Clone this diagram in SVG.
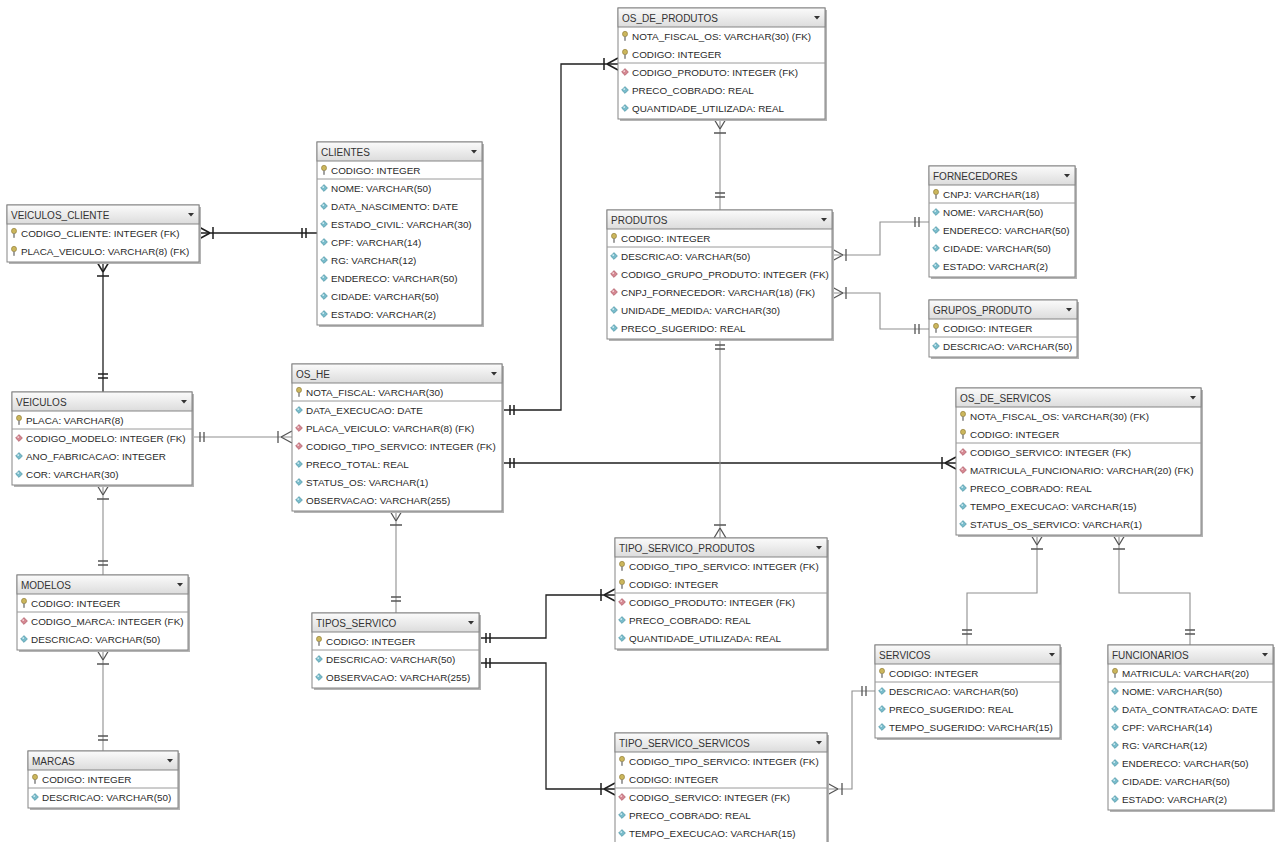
<svg xmlns="http://www.w3.org/2000/svg" xmlns:xlink="http://www.w3.org/1999/xlink" width="1282" height="842" viewBox="0 0 1282 842">
<defs>
<linearGradient id="hdr" x1="0" y1="0" x2="0" y2="1">
<stop offset="0" stop-color="#fbfbfb"/><stop offset="1" stop-color="#dcdcdc"/>
</linearGradient>
<g id="key"><ellipse cx="0" cy="-2" rx="2.5" ry="2.7" fill="#cbb65c" stroke="#8a7630" stroke-width="0.6"/><rect x="-0.8" y="0.4" width="1.6" height="4.4" fill="#8a8a8a"/></g>
<g id="att"><path d="M0,-3.4 L3.4,0 L0,3.4 L-3.4,0Z" fill="#79bccb" stroke="#3f8999" stroke-width="0.6"/><circle cx="-0.8" cy="-0.9" r="0.9" fill="#d8f0f5"/></g>
<g id="fk"><path d="M0,-3.4 L3.4,0 L0,3.4 L-3.4,0Z" fill="#d58892" stroke="#a14a57" stroke-width="0.6"/><circle cx="-0.8" cy="-0.9" r="0.9" fill="#f6dadd"/></g>
<path id="tri" d="M0,0 H6 L3,3.5Z" fill="#333"/>
</defs>
<style>
.sh{fill:#b4b4b4}
.bx{fill:#fff;stroke:#858585;stroke-width:1}
.hd{fill:url(#hdr);stroke:#858585;stroke-width:1}
.sep{stroke:#9a9a9a;stroke-width:1}
text{font-family:"Liberation Sans",Arial,sans-serif;font-size:9.9px;fill:#2a2a2a}
.ht{font-size:10px;fill:#333}
.ln{fill:none;stroke:#1e1e1e;stroke-width:1.3}
.ll{fill:none;stroke:#8f8f8f;stroke-width:1.1}
.sd{fill:none;stroke:#1e1e1e;stroke-width:1.5}
.sl{fill:none;stroke:#555;stroke-width:1.3}
</style>
<rect width="1282" height="842" fill="#fff"/>

<g id="connectors">
<!-- VEICULOS_CLIENTE - CLIENTES -->
<path class="ln" d="M199,233 H317"/>
<path class="sd" d="M199,227 L210,233 M199,239 L210,233 M213,227 V239 M302,228 V238 M306,228 V238"/>
<!-- VEICULOS_CLIENTE - VEICULOS -->
<path class="ln" d="M103,262 V392"/>
<path class="sd" d="M97,262 L103,272 M109,262 L103,272 M97,276 H109 M98,374 H108 M98,378 H108"/>
<!-- VEICULOS - OS_HE -->
<path class="ll" d="M192,437 H292"/>
<path class="sl" d="M200,432 V442 M204,432 V442 M292,431 L281,437 M292,443 L281,437 M278,431 V443"/>
<!-- OS_HE - OS_DE_PRODUTOS -->
<path class="ln" d="M502,410 H561 V64 H618"/>
<path class="sd" d="M510,405 V415 M514,405 V415 M618,58 L607,64 M618,70 L607,64 M604,58 V70"/>
<!-- OS_HE - OS_DE_SERVICOS -->
<path class="ln" d="M502,463 H956"/>
<path class="sd" d="M510,458 V468 M514,458 V468 M956,457 L945,463 M956,469 L945,463 M942,457 V469"/>
<!-- OS_HE - TIPOS_SERVICO -->
<path class="ll" d="M396,511 V613"/>
<path class="sl" d="M390,511 L396,521 M402,511 L396,521 M390,525 H402 M391,597 H401 M391,601 H401"/>
<!-- OS_DE_PRODUTOS - PRODUTOS -->
<path class="ll" d="M720,119 V210"/>
<path class="sl" d="M714,119 L720,129 M726,119 L720,129 M714,133 H726 M715,193 H725 M715,197 H725"/>
<!-- PRODUTOS - TIPO_SERVICO_PRODUTOS -->
<path class="ll" d="M720,339 V538"/>
<path class="sl" d="M715,345 H725 M715,349 H725 M714,538 L720,528 M726,538 L720,528 M714,525 H726"/>
<!-- PRODUTOS - FORNECEDORES -->
<path class="ll" d="M832,255 H880 V222 H929"/>
<path class="sl" d="M832,249 L843,255 M832,261 L843,255 M846,249 V261 M915,217 V227 M919,217 V227"/>
<!-- PRODUTOS - GRUPOS_PRODUTO -->
<path class="ll" d="M832,293 H880 V329 H929"/>
<path class="sl" d="M832,287 L843,293 M832,299 L843,293 M846,287 V299 M915,324 V334 M919,324 V334"/>
<!-- TIPOS_SERVICO - TIPO_SERVICO_PRODUTOS -->
<path class="ln" d="M479,638 H546 V595 H615"/>
<path class="sd" d="M486,633 V643 M490,633 V643 M615,589 L604,595 M615,601 L604,595 M601,589 V601"/>
<!-- TIPOS_SERVICO - TIPO_SERVICO_SERVICOS -->
<path class="ln" d="M479,663 H546 V789 H615"/>
<path class="sd" d="M486,658 V668 M490,658 V668 M615,783 L604,789 M615,795 L604,789 M601,783 V795"/>
<!-- TIPO_SERVICO_SERVICOS - SERVICOS -->
<path class="ll" d="M827,789 H852 V691 H875"/>
<path class="sl" d="M827,783 L838,789 M827,795 L838,789 M842,783 V795 M862,686 V696 M866,686 V696"/>
<!-- OS_DE_SERVICOS - SERVICOS -->
<path class="ll" d="M1037,535 V593 H967 V645"/>
<path class="sl" d="M1031,535 L1037,545 M1043,535 L1037,545 M1031,549 H1043 M962,630 H972 M962,634 H972"/>
<!-- OS_DE_SERVICOS - FUNCIONARIOS -->
<path class="ll" d="M1119,535 V593 H1190 V645"/>
<path class="sl" d="M1113,535 L1119,545 M1125,535 L1119,545 M1113,549 H1125 M1185,630 H1195 M1185,634 H1195"/>
<!-- VEICULOS - MODELOS -->
<path class="ll" d="M103,485 V575"/>
<path class="sl" d="M97,485 L103,495 M109,485 L103,495 M97,499 H109 M98,561 H108 M98,565 H108"/>
<!-- MODELOS - MARCAS -->
<path class="ll" d="M103,650 V751"/>
<path class="sl" d="M97,650 L103,660 M109,650 L103,660 M97,664 H109 M98,736 H108 M98,740 H108"/>
</g>

<g id="os_de_produtos" transform="translate(618,8)">
<rect class="sh" x="2" y="2" width="207" height="111"/><rect class="bx" width="207" height="111"/>
<rect class="hd" width="207" height="19"/><text class="ht" x="4" y="13.5">OS_DE_PRODUTOS</text><use href="#tri" x="196" y="8"/>
<line class="sep" x1="0" y1="55" x2="207" y2="55"/>
<use href="#key" x="7" y="28"/><text x="14" y="31.5">NOTA_FISCAL_OS: VARCHAR(30) (FK)</text>
<use href="#key" x="7" y="46"/><text x="14" y="49.5">CODIGO: INTEGER</text>
<use href="#fk" x="7" y="64"/><text x="14" y="67.5">CODIGO_PRODUTO: INTEGER (FK)</text>
<use href="#att" x="7" y="82"/><text x="14" y="85.5">PRECO_COBRADO: REAL</text>
<use href="#att" x="7" y="100"/><text x="14" y="103.5">QUANTIDADE_UTILIZADA: REAL</text>
</g>

<g id="clientes" transform="translate(317,142)">
<rect class="sh" x="2" y="2" width="165" height="183"/><rect class="bx" width="165" height="183"/>
<rect class="hd" width="165" height="19"/><text class="ht" x="4" y="13.5">CLIENTES</text><use href="#tri" x="154" y="8"/>
<line class="sep" x1="0" y1="37" x2="165" y2="37"/>
<use href="#key" x="7" y="28"/><text x="14" y="31.5">CODIGO: INTEGER</text>
<use href="#att" x="7" y="46"/><text x="14" y="49.5">NOME: VARCHAR(50)</text>
<use href="#att" x="7" y="64"/><text x="14" y="67.5">DATA_NASCIMENTO: DATE</text>
<use href="#att" x="7" y="82"/><text x="14" y="85.5">ESTADO_CIVIL: VARCHAR(30)</text>
<use href="#att" x="7" y="100"/><text x="14" y="103.5">CPF: VARCHAR(14)</text>
<use href="#att" x="7" y="118"/><text x="14" y="121.5">RG: VARCHAR(12)</text>
<use href="#att" x="7" y="136"/><text x="14" y="139.5">ENDERECO: VARCHAR(50)</text>
<use href="#att" x="7" y="154"/><text x="14" y="157.5">CIDADE: VARCHAR(50)</text>
<use href="#att" x="7" y="172"/><text x="14" y="175.5">ESTADO: VARCHAR(2)</text>
</g>

<g id="veiculos_cliente" transform="translate(7,205)">
<rect class="sh" x="2" y="2" width="192" height="57"/><rect class="bx" width="192" height="57"/>
<rect class="hd" width="192" height="19"/><text class="ht" x="4" y="13.5">VEICULOS_CLIENTE</text><use href="#tri" x="181" y="8"/>
<use href="#key" x="7" y="28"/><text x="14" y="31.5">CODIGO_CLIENTE: INTEGER (FK)</text>
<use href="#key" x="7" y="46"/><text x="14" y="49.5">PLACA_VEICULO: VARCHAR(8) (FK)</text>
</g>

<g id="veiculos" transform="translate(12,392)">
<rect class="sh" x="2" y="2" width="180" height="93"/><rect class="bx" width="180" height="93"/>
<rect class="hd" width="180" height="19"/><text class="ht" x="4" y="13.5">VEICULOS</text><use href="#tri" x="169" y="8"/>
<line class="sep" x1="0" y1="37" x2="180" y2="37"/>
<use href="#key" x="7" y="28"/><text x="14" y="31.5">PLACA: VARCHAR(8)</text>
<use href="#fk" x="7" y="46"/><text x="14" y="49.5">CODIGO_MODELO: INTEGER (FK)</text>
<use href="#att" x="7" y="64"/><text x="14" y="67.5">ANO_FABRICACAO: INTEGER</text>
<use href="#att" x="7" y="82"/><text x="14" y="85.5">COR: VARCHAR(30)</text>
</g>

<g id="os_he" transform="translate(292,364)">
<rect class="sh" x="2" y="2" width="210" height="147"/><rect class="bx" width="210" height="147"/>
<rect class="hd" width="210" height="19"/><text class="ht" x="4" y="13.5">OS_HE</text><use href="#tri" x="199" y="8"/>
<line class="sep" x1="0" y1="37" x2="210" y2="37"/>
<use href="#key" x="7" y="28"/><text x="14" y="31.5">NOTA_FISCAL: VARCHAR(30)</text>
<use href="#att" x="7" y="46"/><text x="14" y="49.5">DATA_EXECUCAO: DATE</text>
<use href="#fk" x="7" y="64"/><text x="14" y="67.5">PLACA_VEICULO: VARCHAR(8) (FK)</text>
<use href="#fk" x="7" y="82"/><text x="14" y="85.5">CODIGO_TIPO_SERVICO: INTEGER (FK)</text>
<use href="#att" x="7" y="100"/><text x="14" y="103.5">PRECO_TOTAL: REAL</text>
<use href="#att" x="7" y="118"/><text x="14" y="121.5">STATUS_OS: VARCHAR(1)</text>
<use href="#att" x="7" y="136"/><text x="14" y="139.5">OBSERVACAO: VARCHAR(255)</text>
</g>

<g id="produtos" transform="translate(607,210)">
<rect class="sh" x="2" y="2" width="225" height="129"/><rect class="bx" width="225" height="129"/>
<rect class="hd" width="225" height="19"/><text class="ht" x="4" y="13.5">PRODUTOS</text><use href="#tri" x="214" y="8"/>
<line class="sep" x1="0" y1="37" x2="225" y2="37"/>
<use href="#key" x="7" y="28"/><text x="14" y="31.5">CODIGO: INTEGER</text>
<use href="#att" x="7" y="46"/><text x="14" y="49.5">DESCRICAO: VARCHAR(50)</text>
<use href="#fk" x="7" y="64"/><text x="14" y="67.5">CODIGO_GRUPO_PRODUTO: INTEGER (FK)</text>
<use href="#fk" x="7" y="82"/><text x="14" y="85.5">CNPJ_FORNECEDOR: VARCHAR(18) (FK)</text>
<use href="#att" x="7" y="100"/><text x="14" y="103.5">UNIDADE_MEDIDA: VARCHAR(30)</text>
<use href="#att" x="7" y="118"/><text x="14" y="121.5">PRECO_SUGERIDO: REAL</text>
</g>

<g id="fornecedores" transform="translate(929,166)">
<rect class="sh" x="2" y="2" width="146" height="111"/><rect class="bx" width="146" height="111"/>
<rect class="hd" width="146" height="19"/><text class="ht" x="4" y="13.5">FORNECEDORES</text><use href="#tri" x="135" y="8"/>
<line class="sep" x1="0" y1="37" x2="146" y2="37"/>
<use href="#key" x="7" y="28"/><text x="14" y="31.5">CNPJ: VARCHAR(18)</text>
<use href="#att" x="7" y="46"/><text x="14" y="49.5">NOME: VARCHAR(50)</text>
<use href="#att" x="7" y="64"/><text x="14" y="67.5">ENDERECO: VARCHAR(50)</text>
<use href="#att" x="7" y="82"/><text x="14" y="85.5">CIDADE: VARCHAR(50)</text>
<use href="#att" x="7" y="100"/><text x="14" y="103.5">ESTADO: VARCHAR(2)</text>
</g>

<g id="grupos_produto" transform="translate(929,300)">
<rect class="sh" x="2" y="2" width="148" height="57"/><rect class="bx" width="148" height="57"/>
<rect class="hd" width="148" height="19"/><text class="ht" x="4" y="13.5">GRUPOS_PRODUTO</text><use href="#tri" x="137" y="8"/>
<line class="sep" x1="0" y1="37" x2="148" y2="37"/>
<use href="#key" x="7" y="28"/><text x="14" y="31.5">CODIGO: INTEGER</text>
<use href="#att" x="7" y="46"/><text x="14" y="49.5">DESCRICAO: VARCHAR(50)</text>
</g>

<g id="os_de_servicos" transform="translate(956,388)">
<rect class="sh" x="2" y="2" width="245" height="147"/><rect class="bx" width="245" height="147"/>
<rect class="hd" width="245" height="19"/><text class="ht" x="4" y="13.5">OS_DE_SERVICOS</text><use href="#tri" x="234" y="8"/>
<line class="sep" x1="0" y1="55" x2="245" y2="55"/>
<use href="#key" x="7" y="28"/><text x="14" y="31.5">NOTA_FISCAL_OS: VARCHAR(30) (FK)</text>
<use href="#key" x="7" y="46"/><text x="14" y="49.5">CODIGO: INTEGER</text>
<use href="#fk" x="7" y="64"/><text x="14" y="67.5">CODIGO_SERVICO: INTEGER (FK)</text>
<use href="#fk" x="7" y="82"/><text x="14" y="85.5">MATRICULA_FUNCIONARIO: VARCHAR(20) (FK)</text>
<use href="#att" x="7" y="100"/><text x="14" y="103.5">PRECO_COBRADO: REAL</text>
<use href="#att" x="7" y="118"/><text x="14" y="121.5">TEMPO_EXECUCAO: VARCHAR(15)</text>
<use href="#att" x="7" y="136"/><text x="14" y="139.5">STATUS_OS_SERVICO: VARCHAR(1)</text>
</g>

<g id="tipo_servico_produtos" transform="translate(615,538)">
<rect class="sh" x="2" y="2" width="212" height="111"/><rect class="bx" width="212" height="111"/>
<rect class="hd" width="212" height="19"/><text class="ht" x="4" y="13.5">TIPO_SERVICO_PRODUTOS</text><use href="#tri" x="201" y="8"/>
<line class="sep" x1="0" y1="55" x2="212" y2="55"/>
<use href="#key" x="7" y="28"/><text x="14" y="31.5">CODIGO_TIPO_SERVICO: INTEGER (FK)</text>
<use href="#key" x="7" y="46"/><text x="14" y="49.5">CODIGO: INTEGER</text>
<use href="#fk" x="7" y="64"/><text x="14" y="67.5">CODIGO_PRODUTO: INTEGER (FK)</text>
<use href="#att" x="7" y="82"/><text x="14" y="85.5">PRECO_COBRADO: REAL</text>
<use href="#att" x="7" y="100"/><text x="14" y="103.5">QUANTIDADE_UTILIZADA: REAL</text>
</g>

<g id="tipos_servico" transform="translate(312,613)">
<rect class="sh" x="2" y="2" width="167" height="75"/><rect class="bx" width="167" height="75"/>
<rect class="hd" width="167" height="19"/><text class="ht" x="4" y="13.5">TIPOS_SERVICO</text><use href="#tri" x="156" y="8"/>
<line class="sep" x1="0" y1="37" x2="167" y2="37"/>
<use href="#key" x="7" y="28"/><text x="14" y="31.5">CODIGO: INTEGER</text>
<use href="#att" x="7" y="46"/><text x="14" y="49.5">DESCRICAO: VARCHAR(50)</text>
<use href="#att" x="7" y="64"/><text x="14" y="67.5">OBSERVACAO: VARCHAR(255)</text>
</g>

<g id="tipo_servico_servicos" transform="translate(615,733)">
<rect class="sh" x="2" y="2" width="212" height="111"/><rect class="bx" width="212" height="111"/>
<rect class="hd" width="212" height="19"/><text class="ht" x="4" y="13.5">TIPO_SERVICO_SERVICOS</text><use href="#tri" x="201" y="8"/>
<line class="sep" x1="0" y1="55" x2="212" y2="55"/>
<use href="#key" x="7" y="28"/><text x="14" y="31.5">CODIGO_TIPO_SERVICO: INTEGER (FK)</text>
<use href="#key" x="7" y="46"/><text x="14" y="49.5">CODIGO: INTEGER</text>
<use href="#fk" x="7" y="64"/><text x="14" y="67.5">CODIGO_SERVICO: INTEGER (FK)</text>
<use href="#att" x="7" y="82"/><text x="14" y="85.5">PRECO_COBRADO: REAL</text>
<use href="#att" x="7" y="100"/><text x="14" y="103.5">TEMPO_EXECUCAO: VARCHAR(15)</text>
</g>

<g id="servicos" transform="translate(875,645)">
<rect class="sh" x="2" y="2" width="185" height="93"/><rect class="bx" width="185" height="93"/>
<rect class="hd" width="185" height="19"/><text class="ht" x="4" y="13.5">SERVICOS</text><use href="#tri" x="174" y="8"/>
<line class="sep" x1="0" y1="37" x2="185" y2="37"/>
<use href="#key" x="7" y="28"/><text x="14" y="31.5">CODIGO: INTEGER</text>
<use href="#att" x="7" y="46"/><text x="14" y="49.5">DESCRICAO: VARCHAR(50)</text>
<use href="#att" x="7" y="64"/><text x="14" y="67.5">PRECO_SUGERIDO: REAL</text>
<use href="#att" x="7" y="82"/><text x="14" y="85.5">TEMPO_SUGERIDO: VARCHAR(15)</text>
</g>

<g id="funcionarios" transform="translate(1108,645)">
<rect class="sh" x="2" y="2" width="165" height="165"/><rect class="bx" width="165" height="165"/>
<rect class="hd" width="165" height="19"/><text class="ht" x="4" y="13.5">FUNCIONARIOS</text><use href="#tri" x="154" y="8"/>
<line class="sep" x1="0" y1="37" x2="165" y2="37"/>
<use href="#key" x="7" y="28"/><text x="14" y="31.5">MATRICULA: VARCHAR(20)</text>
<use href="#att" x="7" y="46"/><text x="14" y="49.5">NOME: VARCHAR(50)</text>
<use href="#att" x="7" y="64"/><text x="14" y="67.5">DATA_CONTRATACAO: DATE</text>
<use href="#att" x="7" y="82"/><text x="14" y="85.5">CPF: VARCHAR(14)</text>
<use href="#att" x="7" y="100"/><text x="14" y="103.5">RG: VARCHAR(12)</text>
<use href="#att" x="7" y="118"/><text x="14" y="121.5">ENDERECO: VARCHAR(50)</text>
<use href="#att" x="7" y="136"/><text x="14" y="139.5">CIDADE: VARCHAR(50)</text>
<use href="#att" x="7" y="154"/><text x="14" y="157.5">ESTADO: VARCHAR(2)</text>
</g>

<g id="modelos" transform="translate(17,575)">
<rect class="sh" x="2" y="2" width="171" height="75"/><rect class="bx" width="171" height="75"/>
<rect class="hd" width="171" height="19"/><text class="ht" x="4" y="13.5">MODELOS</text><use href="#tri" x="160" y="8"/>
<line class="sep" x1="0" y1="37" x2="171" y2="37"/>
<use href="#key" x="7" y="28"/><text x="14" y="31.5">CODIGO: INTEGER</text>
<use href="#fk" x="7" y="46"/><text x="14" y="49.5">CODIGO_MARCA: INTEGER (FK)</text>
<use href="#att" x="7" y="64"/><text x="14" y="67.5">DESCRICAO: VARCHAR(50)</text>
</g>

<g id="marcas" transform="translate(28,751)">
<rect class="sh" x="2" y="2" width="150" height="57"/><rect class="bx" width="150" height="57"/>
<rect class="hd" width="150" height="19"/><text class="ht" x="4" y="13.5">MARCAS</text><use href="#tri" x="139" y="8"/>
<line class="sep" x1="0" y1="37" x2="150" y2="37"/>
<use href="#key" x="7" y="28"/><text x="14" y="31.5">CODIGO: INTEGER</text>
<use href="#att" x="7" y="46"/><text x="14" y="49.5">DESCRICAO: VARCHAR(50)</text>
</g>
</svg>
